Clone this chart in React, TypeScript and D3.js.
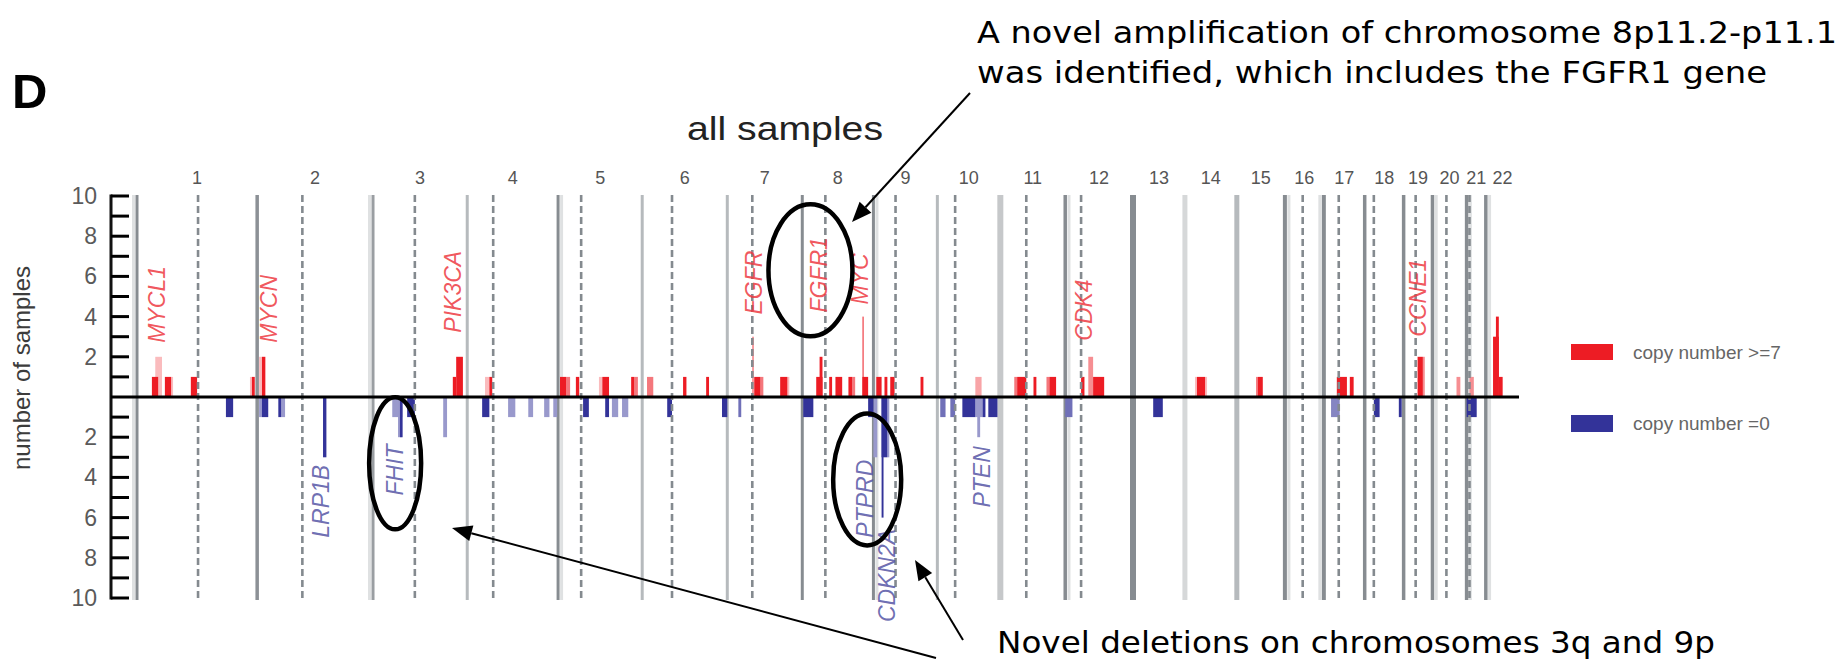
import React from "react";
import * as d3 from "d3";

// ---------------- data ----------------
const CHROMOSOMES = ["1","2","3","4","5","6","7","8","9","10","11","12","13","14","15","16","17","18","19","20","21","22"];
// chromosome lengths (Mb) as drawn
const CHR_LENGTH_MB = [250, 241, 196, 189, 175, 177, 156, 148, 133, 131, 135, 141, 108, 108, 100, 81, 85, 81, 60, 71, 40, 69];
// centromere positions (Mb from chromosome start); null = not drawn
const CENTROMERE_MB: (number | null)[] = [127, 94, 87, 54, 48, 62, 52, 48, 46, 37, 54, 33, null, null, null, 37, 31, 19, 25, 29, 6, null];

const Y_TICK_LABELS = [10, 8, 6, 4, 2, -2, -4, -6, -8, -10];

// [chromosome, start Mb, end Mb, number of samples, bin coverage]
const GAIN_SEGMENTS: [number, number, number, number, number][] = [
  [1, 38, 52, 2, 0.3], [1, 31, 44, 1, 1], [1, 58, 71, 1, 1], [1, 71, 75, 1, 0.3], [1, 112, 125, 1, 1],
  [1, 235, 239, 1, 0.3], [1, 239, 245, 1, 1],
  [2, 4, 10, 2, 0.3], [2, 10, 17, 2, 1],
  [3, 166, 173, 1, 1], [3, 173, 187, 2, 1],
  [4, 37, 46, 1, 0.3], [4, 46, 52, 1, 1],
  [5, 4, 17, 1, 1], [5, 17, 25, 1, 0.6], [5, 37, 44, 1, 1], [5, 85, 92, 1, 0.3], [5, 92, 106, 1, 1],
  [5, 152, 158, 1, 1], [5, 158, 166, 1, 0.6],
  [6, 10, 23, 1, 0.6], [6, 85, 92, 1, 1], [6, 133, 139, 1, 1],
  [7, 52, 55, 3, 0.6], [7, 56, 69, 1, 1], [7, 69, 75, 1, 0.6], [7, 110, 125, 1, 1], [7, 125, 129, 1, 0.3],
  [8, 29, 42, 1, 1], [8, 36, 42, 2, 1], [8, 56, 62, 1, 1], [8, 69, 83, 1, 1], [8, 96, 104, 1, 1],
  [8, 104, 110, 1, 0.6], [8, 125, 128, 4, 0.7], [8, 125, 137, 1, 1],
  [9, 6, 17, 1, 1], [9, 23, 29, 1, 1], [9, 35, 44, 1, 1], [9, 98, 104, 1, 1],
  [10, 79, 92, 1, 0.4],
  [11, 29, 35, 1, 0.6], [11, 35, 54, 1, 1], [11, 69, 75, 1, 1], [11, 96, 102, 1, 0.6], [11, 102, 116, 1, 1],
  [12, 33, 40, 1, 1], [12, 48, 58, 2, 0.5], [12, 58, 81, 1, 1],
  [14, 21, 25, 1, 0.3], [14, 25, 42, 1, 1], [14, 42, 46, 1, 0.3],
  [15, 40, 44, 1, 0.6], [15, 44, 54, 1, 1],
  [17, 27, 48, 1, 1], [17, 54, 62, 1, 1],
  [19, 29, 40, 2, 1], [19, 40, 44, 2, 0.5],
  [20, 50, 58, 1, 0.5],
  [21, 6, 15, 1, 0.5],
  [22, 15, 27, 3, 1], [22, 21, 27, 4, 1], [22, 27, 35, 1, 1],
];

const LOSS_SEGMENTS: [number, number, number, number, number][] = [
  [1, 185, 200, 1, 1],
  [2, 4, 10, 1, 0.5], [2, 10, 23, 1, 1], [2, 44, 50, 1, 1], [2, 50, 58, 1, 0.5], [2, 137, 144, 3, 1],
  [3, 40, 62, 1, 0.5], [3, 52, 62, 2, 0.5], [3, 56, 61, 2, 1], [3, 71, 87, 1, 1], [3, 146, 154, 2, 0.5],
  [4, 31, 46, 1, 1], [4, 85, 100, 1, 0.5], [4, 127, 137, 1, 0.5], [4, 160, 171, 1, 0.5], [4, 179, 187, 1, 0.5],
  [5, 52, 64, 1, 1], [5, 98, 106, 1, 1], [5, 112, 125, 1, 0.5], [5, 133, 146, 1, 0.5],
  [6, 52, 62, 1, 1], [6, 166, 177, 1, 1],
  [7, 23, 29, 1, 0.7],
  [8, 2, 23, 1, 1], [8, 137, 148, 1, 1],
  [9, 0, 8, 3, 0.5], [9, 17, 29, 3, 1], [9, 17, 21, 6, 1], [9, 29, 33, 3, 0.5],
  [10, 6, 17, 1, 0.7], [10, 27, 37, 1, 0.7], [10, 52, 79, 1, 1], [10, 79, 94, 1, 0.5], [10, 83, 89, 2, 0.5],
  [10, 94, 100, 1, 1], [10, 106, 125, 1, 1],
  [12, 0, 15, 1, 0.7],
  [13, 42, 62, 1, 1],
  [17, 15, 33, 1, 0.6],
  [18, 19, 31, 1, 1], [18, 71, 77, 1, 1],
  [21, 0, 21, 1, 1],
];

// gene labels: name, chromosome, label position (Mb), sample value where the text starts, kind
const GENE_NAMES = ["MYCL1", "MYCN", "PIK3CA", "EGFR", "FGFR1", "MYC", "CDK4", "CCNE1", "LRP1B", "FHIT", "PTPRD", "CDKN2A", "PTEN"];
const GENE_CHR = [1, 2, 3, 7, 8, 8, 12, 19, 2, 3, 8, 9, 10];
const GENE_MB = [42, 25, 166, 56, 35, 121, 40, 29, 133, 46, 131, 29, 92];
const GENE_START = [2.7, 2.7, 3.2, 4.1, 4.2, 4.6, 2.8, 3.0, -7.0, -4.9, -7.0, -11.2, -5.5];
const GENE_KIND = ["gain", "gain", "gain", "gain", "gain", "gain", "gain", "gain", "loss", "loss", "loss", "loss", "loss"];

const LEGEND_LABELS = ["copy number >=7", "copy number =0"];
const TITLE = "all samples";
const PANEL = "D";
const Y_LABEL = "number of samples";
const NOTE_AMP = ["A novel amplification of chromosome 8p11.2-p11.1", "was identified, which includes the FGFR1 gene"];
const NOTE_DEL = "Novel deletions on chromosomes 3q and 9p";

// circled regions: chromosome, Mb, sample value (centre)
const CIRCLES: [number, number, number][] = [[8, 17, 6.3], [3, 46, -3.3], [8, 135, -4.1]];

// ---------------- styles ----------------
const BOUNDARY_STYLE = [
  { c: "#878c91", w: 3, band: -1 }, { c: "#8c9196", w: 3.5, band: 0 }, { c: "#9a9ea2", w: 3, band: -1 },
  { c: "#b6babd", w: 3, band: 0 }, { c: "#878c91", w: 3, band: 1 }, { c: "#b6babd", w: 3, band: 0 },
  { c: "#b6babd", w: 3, band: 0 }, { c: "#878c91", w: 3, band: 0 }, { c: "#878c91", w: 3, band: 1 },
  { c: "#b6babd", w: 3, band: 0 }, { c: "#c6c8ca", w: 6, band: 0 }, { c: "#878c91", w: 3.5, band: 1 },
  { c: "#878c91", w: 6, band: 0 }, { c: "#d6d8d9", w: 5, band: 0 }, { c: "#b6babd", w: 5, band: 0 },
  { c: "#878c91", w: 4, band: 1 }, { c: "#878c91", w: 4, band: -1 }, { c: "#878c91", w: 3.5, band: 0 },
  { c: "#878c91", w: 3.5, band: 0 }, { c: "#878c91", w: 3.5, band: 1 }, { c: "#878c91", w: 3.5, band: 1 },
  { c: "#878c91", w: 3.5, band: 1 },
];
const CIRCLE_R: [number, number][] = [[42, 66], [26, 66], [34, 66]];

function arrowHead(x1: number, y1: number, x2: number, y2: number, len = 20, hw = 8) {
  const a = Math.atan2(y2 - y1, x2 - x1);
  const bx = x2 - len * Math.cos(a), by = y2 - len * Math.sin(a);
  return {
    pts: `${x2},${y2} ${bx + hw * Math.sin(a)},${by - hw * Math.cos(a)} ${bx - hw * Math.sin(a)},${by + hw * Math.cos(a)}`,
    bx, by,
  };
}

export default function App() {
  const W = 1841, H = 664;
  const offsets: number[] = [0];
  CHR_LENGTH_MB.forEach((l) => offsets.push(offsets[offsets.length - 1] + l));
  const total = offsets[offsets.length - 1];

  const x = d3.scaleLinear().domain([0, total]).range([137, 1519]);
  const y = d3.scaleLinear().domain([-10, 10]).range([598, 196]);
  const gx = (chr: number, mb: number) => x(offsets[chr - 1] + mb);

  const RED = "#ed1c24", BLUE = "#333399";
  const tone = (base: string, c: number) => d3.interpolateRgb("#ffffff", base)(c);
  const axisX = 111;
  const lineTop = y(10) - 1, lineBot = y(-10) + 2;

  const gains = [...GAIN_SEGMENTS].sort((a, b) => a[4] - b[4]);
  const losses = [...LOSS_SEGMENTS].sort((a, b) => a[4] - b[4]);

  const arrows = [
    { from: [970, 93], to: [852, 222] },
    { from: [963, 640], to: [915, 560] },
    { from: [936, 658], to: [452, 528] },
  ];

  const sans = "'Liberation Sans', Arial, Helvetica, sans-serif";
  const noteFont = "'DejaVu Sans', Verdana, sans-serif";

  return (
    <svg width={W} height={H} viewBox={`0 0 ${W} ${H}`}
      style={{ position: "absolute", left: 0, top: 0, background: "#fff" }}>
      <rect x={0} y={0} width={W} height={H} fill="#fff" />

      {/* chromosome boundaries */}
      {offsets.slice(0, 22).map((o, i) => {
        const s = BOUNDARY_STYLE[i];
        const px = x(o);
        return (
          <g key={"b" + i}>
            {s.band !== 0 && (
              <line x1={px + s.band * (s.w / 2 + 2)} x2={px + s.band * (s.w / 2 + 2)} y1={lineTop} y2={lineBot}
                stroke="#dfe1e2" strokeWidth={3} />
            )}
            <line x1={px} x2={px} y1={lineTop} y2={lineBot} stroke={s.c} strokeWidth={s.w} />
          </g>
        );
      })}

      {/* gain bars */}
      {gains.map((d, i) => {
        const x0 = gx(d[0], d[1]), x1 = gx(d[0], d[2]);
        return <rect key={"g" + i} x={x0} width={Math.max(1.2, x1 - x0)} y={y(d[3])} height={y(0) - y(d[3])}
          fill={tone(RED, d[4])} />;
      })}
      {/* loss bars */}
      {losses.map((d, i) => {
        const x0 = gx(d[0], d[1]), x1 = gx(d[0], d[2]);
        return <rect key={"l" + i} x={x0} width={Math.max(1.2, x1 - x0)} y={y(0)} height={y(-d[3]) - y(0)}
          fill={tone(BLUE, d[4])} />;
      })}

      {/* centromeres */}
      {CENTROMERE_MB.map((c, i) =>
        c === null ? null : (
          <line key={"c" + i} x1={gx(i + 1, c)} x2={gx(i + 1, c)} y1={lineTop} y2={lineBot}
            stroke="#848a8f" strokeWidth={2.6} strokeDasharray="7 4" />
        )
      )}

      {/* chromosome numbers */}
      {CHROMOSOMES.map((name, i) => (
        <text key={"n" + i} x={(x(offsets[i]) + x(offsets[i + 1])) / 2} y={184} textAnchor="middle"
          fontFamily={sans} fontSize={18} fill="#555">{name}</text>
      ))}

      {/* gene labels */}
      {GENE_NAMES.map((g, i) => {
        const gxp = gx(GENE_CHR[i], GENE_MB[i]);
        const gy = y(GENE_START[i]);
        const gain = GENE_KIND[i] === "gain";
        return (
          <text key={"gene" + i} transform={`translate(${gxp},${gy}) rotate(-90)`} dominantBaseline="central"
            fontFamily={sans} fontStyle="italic" fontSize={23}
            fill={gain ? "#ee3a42" : "#5656a6"} fillOpacity={0.85}>{g}</text>
        );
      })}

      {/* y axis */}
      <line x1={axisX} x2={axisX} y1={y(10) - 1.5} y2={y(-10) + 1.5} stroke="#111" strokeWidth={3} />
      {d3.range(-10, 11).filter((v) => v !== 0).map((v) => (
        <line key={"t" + v} x1={axisX} x2={axisX + 18} y1={y(v)} y2={y(v)} stroke="#000" strokeWidth={3} />
      ))}
      {Y_TICK_LABELS.map((v) => (
        <text key={"tl" + v} x={97} y={y(v)} textAnchor="end" dominantBaseline="central"
          fontFamily={sans} fontSize={23} fill="#5a5a5a">{Math.abs(v)}</text>
      ))}
      <text transform={`translate(21,368) rotate(-90)`} textAnchor="middle" dominantBaseline="central"
        fontFamily={sans} fontSize={24} fill="#3c3c3c">{Y_LABEL}</text>

      {/* zero line */}
      <line x1={axisX} x2={x(total)} y1={y(0)} y2={y(0)} stroke="#000" strokeWidth={3.2} />

      {/* legend */}
      <rect x={1571} y={344} width={42} height={16} fill={RED} />
      <rect x={1571} y={415} width={42} height={17} fill={BLUE} />
      <text x={1633} y={352} dominantBaseline="central" fontFamily={sans} fontSize={19} fill="#666">{LEGEND_LABELS[0]}</text>
      <text x={1633} y={423} dominantBaseline="central" fontFamily={sans} fontSize={19} fill="#666">{LEGEND_LABELS[1]}</text>

      {/* titles */}
      <text x={12} y={108} fontFamily={sans} fontWeight="bold" fontSize={49} fill="#000">{PANEL}</text>
      <text x={687} y={140} fontFamily={sans} fontSize={33} fill="#222" textLength={196} lengthAdjust="spacingAndGlyphs">{TITLE}</text>

      {/* circles */}
      {CIRCLES.map((c, i) => (
        <ellipse key={"e" + i} cx={gx(c[0], c[1])} cy={y(c[2])} rx={CIRCLE_R[i][0]} ry={CIRCLE_R[i][1]}
          fill="none" stroke="#000" strokeWidth={4.5} />
      ))}

      {/* arrows */}
      {arrows.map((a, i) => {
        const h = arrowHead(a.from[0], a.from[1], a.to[0], a.to[1]);
        return (
          <g key={"a" + i}>
            <line x1={a.from[0]} y1={a.from[1]} x2={h.bx} y2={h.by} stroke="#000" strokeWidth={2} />
            <polygon points={h.pts} fill="#000" />
          </g>
        );
      })}

      {/* annotations */}
      <text x={977} y={43} fontFamily={noteFont} fontSize={30} fill="#000" textLength={860} lengthAdjust="spacingAndGlyphs">{NOTE_AMP[0]}</text>
      <text x={977} y={83} fontFamily={noteFont} fontSize={30} fill="#000" textLength={790} lengthAdjust="spacingAndGlyphs">{NOTE_AMP[1]}</text>
      <text x={997} y={653} fontFamily={noteFont} fontSize={31} fill="#000" textLength={718} lengthAdjust="spacingAndGlyphs">{NOTE_DEL}</text>
    </svg>
  );
}
